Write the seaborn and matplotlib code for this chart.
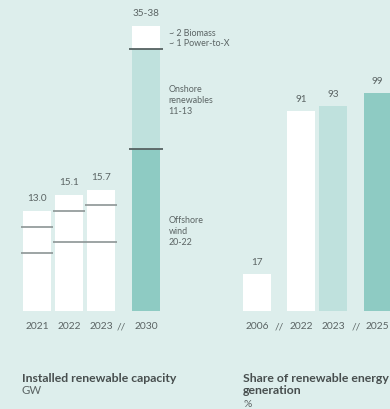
import matplotlib
matplotlib.use("Agg")
import matplotlib.pyplot as plt
import seaborn as sns
import pandas as pd

# ---- data ----
cap_years = ["2021", "2022", "2023", "2030"]
cap_offshore = [7.5, 9.0, 9.0, 21.0]
cap_onshore = [3.4, 4.0, 4.8, 13.0]
cap_total = [13.0, 15.1, 15.7, 37.0]
cap_labels = ["13.0", "15.1", "15.7", "35-38"]

share_years = ["2006", "2022", "2023", "2025"]
share_values = [17, 91, 93, 99]

# ---- style ----
BG = "#ddeeec"
WHITE = "#ffffff"
LIGHT = "#bfe1dd"
DARK = "#8ecbc3"
TXT = "#5b6464"
TITLE = "#474e4e"

sns.set_style("white")
plt.rcParams["font.family"] = ["Lato", "DejaVu Sans"]

W, H = 390, 410
fig = plt.figure(figsize=(W / 100, H / 100), dpi=100, facecolor=BG)

UNIT = 32.0        # px per x unit
BASE = 312.0       # baseline y px (from top)
AX_H = 308.0       # axes height px


def make_ax(x0_px, xlim):
    w_px = (xlim[1] - xlim[0]) * UNIT
    left = x0_px + xlim[0] * UNIT
    ax = fig.add_axes([left / W, (H - BASE) / H, w_px / W, AX_H / H])
    ax.set_facecolor("none")
    return ax


# ---------------- left panel ----------------
cap_pos = [0, 1, 2, 3.41]
axL = make_ax(37.0, (-0.55, 4.0))
dfL = pd.DataFrame({"pos": cap_pos, "total": cap_total})
sns.barplot(data=dfL, x="pos", y="total", native_scale=True, width=0.875,
            color=WHITE, saturation=1, linewidth=0, errorbar=None, ax=axL)
d30 = pd.DataFrame({"pos": [cap_pos[3]],
                    "on": [cap_offshore[3] + cap_onshore[3]],
                    "off": [cap_offshore[3]]})
sns.barplot(data=d30, x="pos", y="on", native_scale=True, width=0.875,
            color=LIGHT, saturation=1, linewidth=0, errorbar=None, ax=axL)
sns.barplot(data=d30, x="pos", y="off", native_scale=True, width=0.875,
            color=DARK, saturation=1, linewidth=0, errorbar=None, ax=axL)

for i in range(3):
    x = cap_pos[i]
    for yv in (cap_offshore[i], cap_offshore[i] + cap_onshore[i]):
        axL.hlines(yv, x - 0.5, x + 0.5, color="#8c9595", lw=1.2, zorder=5)
x = cap_pos[3]
for yv in (cap_offshore[3], cap_offshore[3] + cap_onshore[3]):
    axL.hlines(yv, x - 0.53, x + 0.53, color="#566262", lw=1.3, zorder=5)

for x, t, lab in zip(cap_pos, cap_total, cap_labels):
    axL.annotate(lab, (x, t), xytext=(0, 9.5), textcoords="offset points",
                 ha="center", va="center", fontsize=7.2, color=TXT)

ann_x = cap_pos[3] + 0.7
on_top = cap_offshore[3] + cap_onshore[3]
axL.text(ann_x, (on_top + cap_total[3]) / 2, "~ 2 Biomass\n~ 1 Power-to-X",
         ha="left", va="center", fontsize=6.4, color=TXT, linespacing=1.15)
axL.text(ann_x, (cap_offshore[3] + on_top) / 2, "Onshore\nrenewables\n11-13",
         ha="left", va="center", fontsize=6.4, color=TXT, linespacing=1.3)
axL.text(ann_x, cap_offshore[3] / 2, "Offshore\nwind\n20-22",
         ha="left", va="center", fontsize=6.4, color=TXT, linespacing=1.3)

axL.set_xlim(-0.55, 4.0)
axL.set_ylim(0, 40)
axL.set_xticks([0, 1, 2, 2.64, 3.41])
axL.set_xticklabels(cap_years[:3] + ["//"] + cap_years[3:])

# ---------------- right panel ----------------
share_pos = [0, 1.39, 2.39, 3.77]
axR = make_ax(257.0, (-0.6, 4.5))
share_colors = [WHITE, WHITE, LIGHT, DARK]
for p, v, c in zip(share_pos, share_values, share_colors):
    sns.barplot(data=pd.DataFrame({"pos": [p], "v": [v]}), x="pos", y="v",
                native_scale=True, width=0.875, color=c, saturation=1,
                linewidth=0, errorbar=None, ax=axR)
for p, v in zip(share_pos, share_values):
    axR.annotate(str(v), (p, v), xytext=(0, 9), textcoords="offset points",
                 ha="center", va="center", fontsize=7.2, color=TXT)
axR.set_xlim(-0.6, 4.5)
axR.set_ylim(0, 140)
axR.set_xticks([0, 0.69, 1.39, 2.39, 3.09, 3.77])
axR.set_xticklabels([share_years[0], "//", share_years[1], share_years[2], "//", share_years[3]])

for ax in (axL, axR):
    sns.despine(ax=ax, left=True, bottom=True)
    ax.set_yticks([])
    ax.set_xlabel("")
    ax.set_ylabel("")
    ax.tick_params(axis="x", length=0, pad=7.5, labelsize=7.4, labelcolor=TXT)

# ---------------- titles ----------------
fig.text(22 / W, 1 - 379 / H, "Installed renewable capacity", fontsize=8.8,
         fontweight="bold", color=TITLE, ha="left", va="center")
fig.text(22 / W, 1 - 391 / H, "GW", fontsize=8.2, color=TXT, ha="left", va="center")
fig.text(243 / W, 1 - 379 / H, "Share of renewable energy", fontsize=8.8,
         fontweight="bold", color=TITLE, ha="left", va="center")
fig.text(243 / W, 1 - 391 / H, "generation", fontsize=8.8,
         fontweight="bold", color=TITLE, ha="left", va="center")
fig.text(243 / W, 1 - 404.5 / H, "%", fontsize=7.4, color=TXT, ha="left", va="center")

fig.savefig("out.png", dpi=100, facecolor=BG)
